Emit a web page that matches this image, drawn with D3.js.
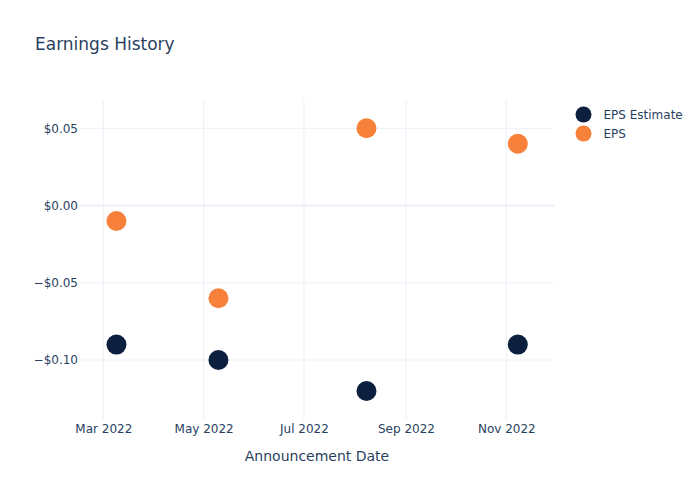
<!DOCTYPE html>
<html>
<head>
<meta charset="utf-8">
<script src="https://cdn.jsdelivr.net/npm/d3@7"></script>
<style>
  body { margin: 0; background: #fff; }
  svg text { font-family: "DejaVu Sans", Verdana, sans-serif; }
</style>
</head>
<body>
<svg id="chart" width="700" height="500"></svg>
<script>
const dates = ["2022-03-09", "2022-05-10", "2022-08-08", "2022-11-08"];
const epsEstimate = [-0.09, -0.10, -0.12, -0.09];
const eps = [-0.01, -0.06, 0.05, 0.04];
const seriesNames = ["EPS Estimate", "EPS"];
const seriesColors = ["#0c1f3f", "#f7803a"];
const yTicks = [-0.10, -0.05, 0.00, 0.05];
const xTickDates = ["2022-03-01", "2022-05-01", "2022-07-01", "2022-09-01", "2022-11-01"];
const title = "Earnings History";
const xTitle = "Announcement Date";

const parse = d3.utcParse("%Y-%m-%d");
const svg = d3.select("#chart");
const m = { l: 80, r: 146, t: 100, b: 80 };
const W = 700, H = 500;
const pw = W - m.l - m.r, ph = H - m.t - m.b;
const textColor = "#2a3f5f";
const gridColor = "#ebf0f8";

const x = d3.scaleUtc()
  .domain([new Date(Date.UTC(2022, 1, 14, 20)), new Date(Date.UTC(2022, 10, 30, 0))])
  .range([m.l, m.l + pw]);
const y = d3.scaleLinear().domain([-0.1388, 0.0683]).range([m.t + ph, m.t]);

// grid
const g = svg.append("g");
g.selectAll(".vg").data(xTickDates).enter().append("line")
  .attr("x1", d => x(parse(d))).attr("x2", d => x(parse(d)))
  .attr("y1", m.t).attr("y2", m.t + ph)
  .attr("stroke", gridColor).attr("stroke-width", 1);
g.selectAll(".hg").data(yTicks).enter().append("line")
  .attr("x1", m.l).attr("x2", m.l + pw)
  .attr("y1", d => y(d)).attr("y2", d => y(d))
  .attr("stroke", gridColor).attr("stroke-width", d => d === 0 ? 2 : 1);

// axes
const fmt = v => (v < 0 ? "\u2212" : "") + "$" + Math.abs(v).toFixed(2);
const yAxis = d3.axisLeft(y).tickValues(yTicks).tickFormat(fmt).tickSize(0).tickPadding(2);
const ya = svg.append("g").attr("transform", `translate(${m.l},0)`).call(yAxis);
ya.select(".domain").remove();
ya.selectAll("text").attr("fill", textColor).style("font-size", "12px");

const xAxis = d3.axisBottom(x).tickValues(xTickDates.map(parse))
  .tickFormat(d3.utcFormat("%b %Y")).tickSize(0).tickPadding(4);
const xa = svg.append("g").attr("transform", `translate(0,${m.t + ph})`).call(xAxis);
xa.select(".domain").remove();
xa.selectAll("text").attr("fill", textColor).style("font-size", "12px");

// points
const series = [epsEstimate, eps];
series.forEach((vals, i) => {
  svg.append("g").selectAll("circle").data(vals).enter().append("circle")
    .attr("cx", (d, j) => x(parse(dates[j])))
    .attr("cy", d => y(d))
    .attr("r", 10)
    .attr("fill", seriesColors[i]);
});

// title
svg.append("text").attr("x", 35).attr("y", 50).text(title)
  .attr("fill", textColor).style("font-size", "17px");
svg.append("text").attr("x", m.l + pw / 2).attr("y", 461).attr("text-anchor", "middle")
  .text(xTitle).attr("fill", textColor).style("font-size", "14px");

// legend
const lg = svg.append("g");
seriesNames.forEach((n, i) => {
  const yy = 114.5 + i * 19;
  lg.append("circle").attr("cx", 583.5).attr("cy", yy).attr("r", 8).attr("fill", seriesColors[i]);
  lg.append("text").attr("x", 603.5).attr("y", yy + 4.5).text(n)
    .attr("fill", textColor).style("font-size", "12px");
});
</script>
</body>
</html>
